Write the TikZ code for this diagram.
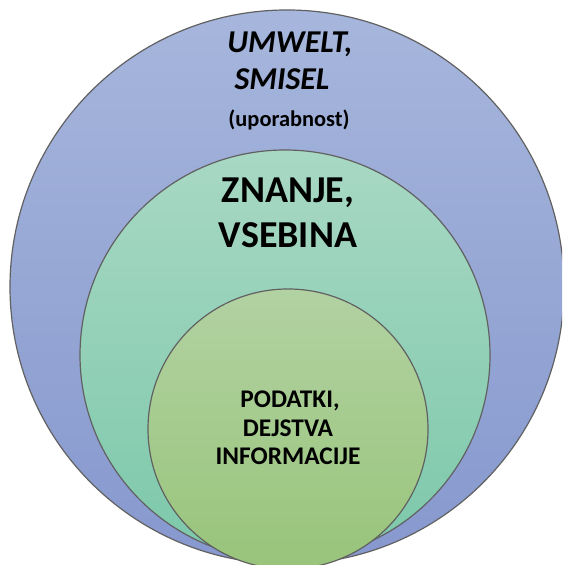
\documentclass[tikz,border=0pt]{standalone}
\usepackage{fontspec}
\setmainfont{Carlito}
\begin{document}
\begin{tikzpicture}[x=0.5pt,y=0.5pt,
  ring/.style={draw=black!62, line width=0.6pt},
  lbl/.style={anchor=base, inner sep=0pt, font=\bfseries},
]
\useasboundingbox (0,0) rectangle (562,565);
\clip (0,0) rectangle (562,565);
% outer circle: Umwelt / smisel
\shade[top color={rgb,255:red,166;green,182;blue,220}, bottom color={rgb,255:red,134;green,152;blue,206}]
  (287,278) circle[radius=277];
\draw[ring] (287,278) circle[radius=277];
% middle circle: znanje / vsebina
\shade[top color={rgb,255:red,168;green,216;blue,196}, bottom color={rgb,255:red,124;green,200;blue,170}]
  (285,210) circle[radius=205];
\draw[ring] (285,210) circle[radius=205];
% inner circle: podatki / dejstva / informacije
\shade[top color={rgb,255:red,178;green,210;blue,162}, bottom color={rgb,255:red,152;green,196;blue,122}]
  (288,136) circle[radius=140];
\draw[ring] (288,136) circle[radius=140];
% labels
\node[lbl, font=\bfseries\itshape\fontsize{15.9}{18}\selectfont] (umwelt) at (290,512) {UMWELT,};
\node[lbl, font=\bfseries\itshape\fontsize{15.9}{18}\selectfont] (smisel) at (282,475) {SMISEL};
\node[lbl, font=\bfseries\fontsize{11.2}{13}\selectfont] (upor) at (289,438) {(uporabnost)};
\node[lbl, font=\bfseries\fontsize{19}{22}\selectfont] (znanje) at (288,362) {ZNANJE,};
\node[lbl, font=\bfseries\fontsize{19}{22}\selectfont] (vsebina) at (288,317) {VSEBINA};
\node[lbl, font=\bfseries\fontsize{12.7}{14}\selectfont] (podatki) at (290,157) {PODATKI,};
\node[lbl, font=\bfseries\fontsize{12.7}{14}\selectfont] (dejstva) at (288,128) {DEJSTVA};
\node[lbl, font=\bfseries\fontsize{12.7}{14}\selectfont] (info) at (288,100) {INFORMACIJE};
\end{tikzpicture}
\end{document}
